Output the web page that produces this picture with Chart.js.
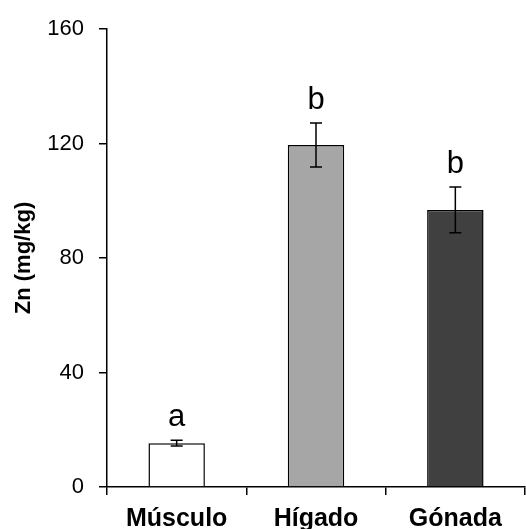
<!DOCTYPE html>
<html>
<head>
<meta charset="utf-8">
<script src="https://cdn.jsdelivr.net/npm/chart.js@4.4.1/dist/chart.umd.min.js"></script>
<style>
  html, body { margin: 0; padding: 0; background: #fff; }
  #wrap { width: 526px; height: 529px; }
</style>
</head>
<body>
<div id="wrap"><canvas id="chart" width="526" height="529"></canvas></div>
<script>
const categories = ["Músculo", "Hígado", "Gónada"];
const means = [15.3, 119.5, 96.8];
const errors = [1.0, 7.7, 8.0];
const letters = ["a", "b", "b"];
const yTicks = [0, 40, 80, 120, 160];
const barColors = ["#ffffff", "#a6a6a6", "#404040"];

const FONT = "'Liberation Sans', Arial, sans-serif";

/* error bars + significance letters */
const errorBars = {
  id: "errorBars",
  afterDatasetsDraw(chart) {
    const ctx = chart.ctx;
    const y = chart.scales.y;
    const meta = chart.getDatasetMeta(0);
    ctx.save();
    ctx.strokeStyle = "#000";
    ctx.lineWidth = 1.5;
    meta.data.forEach((bar, i) => {
      const top = y.getPixelForValue(means[i] + errors[i]);
      const bot = y.getPixelForValue(means[i] - errors[i]);
      const x = bar.x;
      ctx.beginPath();
      ctx.moveTo(x, top); ctx.lineTo(x, bot);
      ctx.moveTo(x - 6, top); ctx.lineTo(x + 6, top);
      ctx.moveTo(x - 6, bot); ctx.lineTo(x + 6, bot);
      ctx.stroke();

      ctx.fillStyle = "#000";
      ctx.font = "31px " + FONT;
      ctx.textAlign = "center";
      ctx.textBaseline = "alphabetic";
      ctx.fillText(letters[i], x, top - 14);
    });
    ctx.restore();
  }
};

new Chart(document.getElementById("chart"), {
  type: "bar",
  data: {
    labels: categories,
    datasets: [{
      data: means,
      backgroundColor: barColors,
      borderColor: "#000",
      borderWidth: 1.5,
      barPercentage: 0.5,
      categoryPercentage: 0.81
    }]
  },
  options: {
    responsive: false,
    animation: false,
    layout: { padding: { top: 29, right: 1, left: 0, bottom: 0 } },
    plugins: { legend: { display: false }, tooltip: { enabled: false } },
    scales: {
      x: {
        offset: true,
        grid: { offset: true, drawOnChartArea: false, drawTicks: true, tickLength: 8, color: "#000", lineWidth: 1.5 },
        border: { display: true, color: "#000", width: 1.5 },
        ticks: { color: "#000", font: { family: FONT, size: 25, weight: "bold" }, padding: 9, maxRotation: 0 },
        afterFit(scale) { scale.height = 42; }
      },
      y: {
        min: 0,
        max: 160,
        afterBuildTicks(scale) { scale.ticks = yTicks.map(v => ({ value: v })); },
        grid: { drawOnChartArea: false, drawTicks: true, tickLength: 8, color: "#000", lineWidth: 1.5 },
        border: { display: true, color: "#000", width: 1.5 },
        ticks: { color: "#000", font: { family: FONT, size: 22 }, padding: 15 },
        title: {
          display: true,
          text: "Zn (mg/kg)",
          color: "#000",
          font: { family: FONT, size: 22, weight: "bold" },
          padding: { top: 11, bottom: 0 }
        },
        afterFit(scale) { scale.width = 107; }
      }
    }
  },
  plugins: [errorBars]
});
</script>
</body>
</html>
